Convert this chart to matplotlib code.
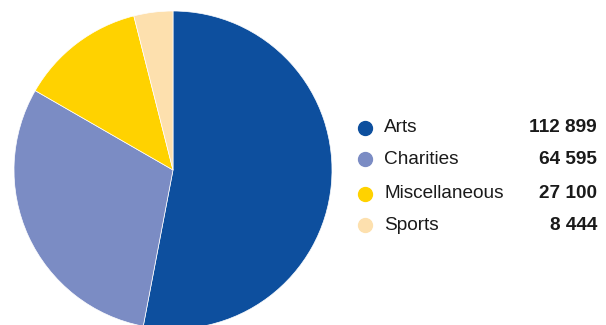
import matplotlib.pyplot as plt

plt.rcParams["font.family"] = ["Liberation Sans", "DejaVu Sans"]

categories = ["Arts", "Charities", "Miscellaneous", "Sports"]
amounts = [112899, 64595, 27100, 8444]
amount_labels = ["112 899", "64 595", "27 100", "8 444"]
colors = ["#0d4f9e", "#7b8cc4", "#ffd200", "#fde0ae"]

W, H = 606, 325
fig = plt.figure(figsize=(W / 100, H / 100), dpi=100)

# pie sits on the left, slightly clipped at the bottom edge
ax = fig.add_axes([14 / W, -4 / H, 318 / W, 318 / H])
ax.pie(amounts, colors=colors, startangle=90, counterclock=False,
       radius=1.0, wedgeprops=dict(edgecolor="white", linewidth=0.5))
ax.set_xlim(-1, 1)
ax.set_ylim(-1, 1)
ax.set_aspect("equal")
ax.axis("off")

# legend built by hand: dot, name, bold amount right-aligned
rows_y = [128, 159, 193.5, 225]
for name, label, color, y in zip(categories, amount_labels, colors, rows_y):
    fy = 1 - y / H
    fig.lines.append(plt.Line2D([365 / W], [fy], marker="o", markersize=10,
                                color=color, linestyle="none",
                                transform=fig.transFigure))
    fig.text(384 / W, fy, name, fontsize=13.7, color="#1a1a1a",
             ha="left", va="center")
    fig.text(597 / W, fy, label, fontsize=13.7, fontweight="bold",
             color="#1a1a1a", ha="right", va="center")

fig.savefig("out.png", dpi=100)
